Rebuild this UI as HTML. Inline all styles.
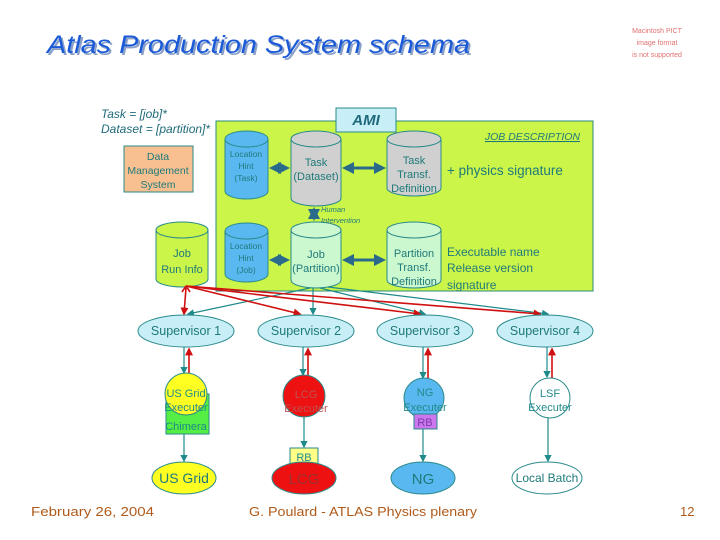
<!DOCTYPE html>
<html><head><meta charset="utf-8"><style>
html,body{margin:0;padding:0;background:#fff;}
svg{display:block;}
text{font-family:"Liberation Sans",sans-serif;}
</style></head><body>
<svg width="720" height="540" viewBox="0 0 720 540" xmlns="http://www.w3.org/2000/svg">
<defs>
<marker id="at" markerWidth="6" markerHeight="6" refX="5" refY="3" orient="auto"><path d="M0,0 L6,3 L0,6 z" fill="#1f8a8a"/></marker>
<marker id="ar" markerWidth="5" markerHeight="5" refX="4" refY="2.5" orient="auto"><path d="M0,0 L5,2.5 L0,5 z" fill="#d01010"/></marker>
<marker id="ab" markerWidth="4" markerHeight="4" refX="3" refY="2" orient="auto"><path d="M0,0 L4,2 L0,4 z" fill="#2a6a8a"/></marker>
<marker id="abs" markerWidth="4" markerHeight="4" refX="1" refY="2" orient="auto"><path d="M4,0 L0,2 L4,4 z" fill="#2a6a8a"/></marker>
</defs>
<!-- title -->
<text x="49" y="55" font-family="'DejaVu Sans',sans-serif" font-size="25" font-style="italic" fill="#8aa0c8" textLength="423" lengthAdjust="spacingAndGlyphs">Atlas Production System schema</text>
<text x="47" y="53" font-family="'DejaVu Sans',sans-serif" font-size="25" font-style="italic" fill="#1a5ad8" textLength="423" lengthAdjust="spacingAndGlyphs">Atlas Production System schema</text>
<text x="657" y="33" font-size="7" fill="#e07070" text-anchor="middle">Macintosh PICT</text>
<text x="657" y="45" font-size="7" fill="#e07070" text-anchor="middle">image format</text>
<text x="657" y="57" font-size="7" fill="#e07070" text-anchor="middle">is not supported</text>

<!-- green box -->
<rect x="216" y="121" width="377" height="170" fill="#ccf54a" stroke="#2a8a7a" stroke-width="1"/>
<rect x="336" y="108" width="60" height="24" fill="#c8eef8" stroke="#2a8a8a"/>
<text x="366" y="125" font-family="'Liberation Serif',serif" font-size="15" font-weight="bold" font-style="italic" fill="#1f6a7a" text-anchor="middle">AMI</text>
<text x="580" y="140" font-size="10.5" font-style="italic" fill="#1f7a7a" text-anchor="end" text-decoration="underline">JOB DESCRIPTION</text>

<text x="101" y="118" font-size="12" font-style="italic" fill="#1f6a7a">Task = [job]*</text>
<text x="101" y="133" font-size="12" font-style="italic" fill="#1f6a7a">Dataset = [partition]*</text>

<rect x="124" y="146" width="69" height="46" fill="#f8c090" stroke="#2a8a8a"/>
<g font-size="10.5" fill="#1f7a7a" text-anchor="middle">
<text x="158" y="160">Data</text><text x="158" y="174">Management</text><text x="158" y="188">System</text>
</g>

<!-- cylinders -->
<g stroke="#2a8a8a" stroke-width="1">
<path d="M225,139 v52 a21.5,8 0 0 0 43,0 v-52" fill="#5ab8f0"/><ellipse cx="246.5" cy="139" rx="21.5" ry="8" fill="#5ab8f0"/>
<path d="M291,139 v59 a25,8 0 0 0 50,0 v-59" fill="#d0d0d0"/><ellipse cx="316" cy="139" rx="25" ry="8" fill="#d0d0d0"/>
<path d="M387,139 v49 a27,8 0 0 0 54,0 v-49" fill="#d0d0d0"/><ellipse cx="414" cy="139" rx="27" ry="8" fill="#d0d0d0"/>
<path d="M156,230 v49 a26,8 0 0 0 52,0 v-49" fill="#ccf54a"/><ellipse cx="182" cy="230" rx="26" ry="8" fill="#ccf54a"/>
<path d="M225,231 v43 a21.5,8 0 0 0 43,0 v-43" fill="#5ab8f0"/><ellipse cx="246.5" cy="231" rx="21.5" ry="8" fill="#5ab8f0"/>
<path d="M291,230 v50 a25,8 0 0 0 50,0 v-50" fill="#ccf8d0"/><ellipse cx="316" cy="230" rx="25" ry="8" fill="#ccf8d0"/>
<path d="M387,230 v50 a27,8 0 0 0 54,0 v-50" fill="#ccf8d0"/><ellipse cx="414" cy="230" rx="27" ry="8" fill="#ccf8d0"/>
</g>
<g fill="#1f7a7a" text-anchor="middle">
<g font-size="8.5"><text x="246" y="157">Location</text><text x="246" y="169">Hint</text><text x="246" y="181">(Task)</text>
<text x="246" y="249">Location</text><text x="246" y="261">Hint</text><text x="246" y="273">(Job)</text></g>
<g font-size="11"><text x="316" y="166">Task</text><text x="316" y="180">(Dataset)</text>
<text x="414" y="164">Task</text><text x="414" y="178">Transf.</text><text x="414" y="192">Definition</text>
<text x="182" y="257">Job</text><text x="182" y="273">Run Info</text>
<text x="316" y="258">Job</text><text x="316" y="272">(Partition)</text>
<text x="414" y="257">Partition</text><text x="414" y="271">Transf.</text><text x="414" y="285">Definition</text></g>
</g>
<text x="447" y="175" font-size="13.5" fill="#1f7a7a">+ physics signature</text>
<g font-size="12" fill="#1f7a7a"><text x="447" y="256">Executable name</text><text x="447" y="272">Release version</text><text x="447" y="289">signature</text></g>
<text x="321" y="212" font-size="7.5" font-style="italic" fill="#1f7a7a">Human</text>
<text x="321" y="223" font-size="7.5" font-style="italic" fill="#1f7a7a">Intervention</text>

<!-- thick arrows -->
<g stroke="#2a6a8a" stroke-width="3" marker-end="url(#ab)" marker-start="url(#abs)">
<line x1="272" y1="168" x2="287" y2="168"/><line x1="345" y1="168" x2="383" y2="168"/>
<line x1="272" y1="260" x2="287" y2="260"/><line x1="345" y1="260" x2="383" y2="260"/>
<line x1="314" y1="210" x2="314" y2="218"/>
</g>

<!-- connector lines -->
<g stroke="#1f8a8a" stroke-width="1.2" marker-end="url(#at)">
<line x1="310" y1="288" x2="188" y2="314"/><line x1="313" y1="288" x2="313" y2="314"/>
<line x1="320" y1="288" x2="425" y2="314"/><line x1="328" y1="287" x2="548" y2="314"/>
</g>
<g stroke="#d01010" stroke-width="1.6" marker-end="url(#ar)">
<line x1="186" y1="288" x2="184" y2="314"/><line x1="186" y1="286" x2="300" y2="314"/>
<line x1="186" y1="286" x2="420" y2="314"/><line x1="186" y1="286" x2="540" y2="314"/>
</g>
<path d="M186,286 l-4,6 M186,286 l4,6" stroke="#d01010" stroke-width="1.6"/>

<!-- supervisors -->
<g fill="#c8eef8" stroke="#2a8a8a">
<ellipse cx="186" cy="331" rx="48" ry="16"/><ellipse cx="306" cy="331" rx="48" ry="16"/>
<ellipse cx="425" cy="331" rx="48" ry="16"/><ellipse cx="545" cy="331" rx="48" ry="16"/>
</g>
<g font-size="12.5" fill="#1f7a7a" text-anchor="middle">
<text x="186" y="335">Supervisor 1</text><text x="306" y="335">Supervisor 2</text>
<text x="425" y="335">Supervisor 3</text><text x="545" y="335">Supervisor 4</text>
</g>

<!-- supervisor to executer -->
<g stroke="#1f8a8a" stroke-width="1.2" marker-end="url(#at)">
<line x1="184" y1="347" x2="184" y2="373"/><line x1="303" y1="347" x2="303" y2="375"/>
<line x1="423" y1="347" x2="423" y2="378"/><line x1="547" y1="347" x2="547" y2="377"/>
<line x1="184" y1="434" x2="184" y2="461"/><line x1="304" y1="417" x2="304" y2="447"/>
<line x1="423" y1="429" x2="423" y2="461"/><line x1="548" y1="418" x2="548" y2="461"/>
</g>
<g stroke="#d01010" stroke-width="1.6" marker-end="url(#ar)">
<line x1="189" y1="375" x2="189" y2="349"/><line x1="308" y1="377" x2="308" y2="349"/>
<line x1="428" y1="380" x2="428" y2="349"/><line x1="552" y1="379" x2="552" y2="349"/>
</g>

<!-- executers -->
<rect x="166" y="394" width="43" height="40" fill="#55ee44" stroke="#2a8a8a"/>
<circle cx="186" cy="394" r="21" fill="#ffff22" stroke="#2a8a8a"/>
<circle cx="304" cy="396" r="21" fill="#ee1111" stroke="#2a8a8a"/>
<circle cx="424" cy="398" r="20" fill="#5ab8f0" stroke="#2a8a8a"/>
<rect x="414" y="414" width="23" height="15" fill="#cc77ee" stroke="#2a8a8a"/>
<circle cx="550" cy="398" r="20" fill="#fff" stroke="#2a8a8a"/>
<g font-size="11" fill="#1f8a8a" text-anchor="middle">
<text x="186" y="397">US Grid</text><text x="186" y="411">Executer</text><text x="186" y="430">Chimera</text>
<text x="306" y="398" fill="#c05050">LCG</text><text x="306" y="412" fill="#c05050">Executer</text>
<text x="425" y="396">NG</text><text x="425" y="411">Executer</text><text x="425" y="426" fill="#7a3aaa">RB</text>
<text x="550" y="397">LSF</text><text x="550" y="411">Executer</text>
</g>

<!-- bottom -->
<rect x="290" y="448" width="28" height="16" fill="#ffff88" stroke="#2a8a8a"/>
<text x="304" y="461" font-size="11" fill="#1f8a8a" text-anchor="middle">RB</text>
<ellipse cx="184" cy="478" rx="32" ry="16" fill="#ffff22" stroke="#2a8a8a"/>
<ellipse cx="304" cy="478" rx="32" ry="16" fill="#ee1111" stroke="#2a8a8a"/>
<ellipse cx="423" cy="478" rx="32" ry="16" fill="#5ab8f0" stroke="#2a8a8a"/>
<ellipse cx="547" cy="478" rx="35" ry="16" fill="#fff" stroke="#2a8a8a"/>
<g text-anchor="middle">
<text x="184" y="483" font-size="14" fill="#1f7a7a">US Grid</text>
<text x="304" y="484" font-size="15" fill="#9a3030">LCG</text>
<text x="423" y="484" font-size="15" fill="#1f7a7a">NG</text>
<text x="547" y="482" font-size="12" fill="#1f7a7a">Local Batch</text>
</g>

<!-- footer -->
<g font-family="'DejaVu Sans',sans-serif" font-size="13" fill="#b05a1a">
<text x="31" y="516" textLength="123" lengthAdjust="spacingAndGlyphs">February 26, 2004</text>
<text x="249" y="516" textLength="228" lengthAdjust="spacingAndGlyphs">G. Poulard - ATLAS Physics plenary</text>
<text x="680" y="516">12</text>
</g>
</svg>
</body></html>
